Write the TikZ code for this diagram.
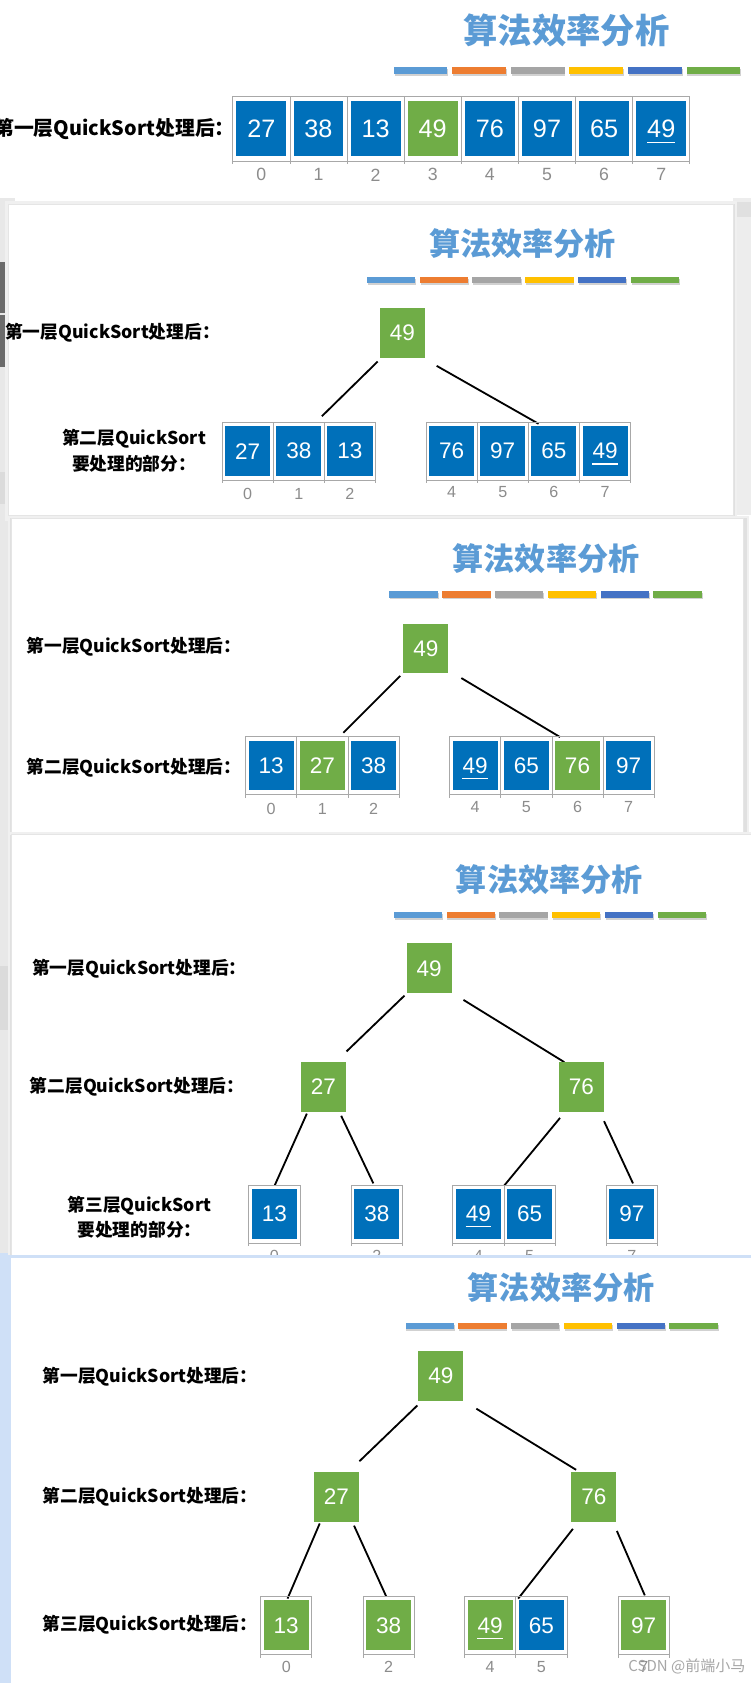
\documentclass[tikz,border=0pt]{standalone}
\usepackage{fontspec}
\setmainfont{Liberation Sans}
\newfontfamily\cjkf{Noto Sans CJK SC}
\newfontfamily\numf{Liberation Sans}
\definecolor{qblue}{HTML}{0070BA}
\definecolor{qgreen}{HTML}{70AD47}
\definecolor{titleblue}{HTML}{5B9BD5}
\definecolor{framegray}{HTML}{A8A8A8}
\definecolor{idxgray}{HTML}{8C8C8C}
\definecolor{barA}{HTML}{5B9BD5}
\definecolor{barB}{HTML}{ED7D31}
\definecolor{barC}{HTML}{A5A5A5}
\definecolor{barD}{HTML}{FFC000}
\definecolor{barE}{HTML}{4472C4}
\definecolor{barF}{HTML}{70AD47}
\definecolor{glow}{HTML}{CFE0F7}
\tikzset{
  frmB/.style={draw=framegray, line width=0.7pt, minimum width=47.7pt, minimum height=54pt, inner sep=0pt, outer sep=0pt},
  frmA/.style={frmB, minimum width=53.25pt, minimum height=60pt},
  boxB/.style={fill=qblue, text=white, minimum width=42pt, minimum height=46.5pt, inner sep=0pt, outer sep=0pt, font=\numf\fontsize{21}{21}\selectfont},
  gboxB/.style={boxB, fill=qgreen},
  boxA/.style={boxB, minimum width=46.5pt, minimum height=51.5pt, font=\numf\fontsize{23.5}{23.5}\selectfont},
  gboxA/.style={boxA, fill=qgreen},
  idxB/.style={text=idxgray, inner sep=0pt, font=\numf\fontsize{15}{15}\selectfont},
  idxA/.style={idxB, font=\numf\fontsize{16.5}{16.5}\selectfont},
  lvlB/.style={inner sep=0pt, anchor=east, font=\cjkf\bfseries\fontsize{16.5}{20}\selectfont},
  lvlA/.style={lvlB, font=\cjkf\bfseries\fontsize{18.5}{22}\selectfont},
  twoline/.style={inner sep=0pt, align=center, font=\cjkf\bfseries\fontsize{16.5}{24}\selectfont},
  ttlB/.style={inner sep=0pt, text=titleblue, font=\cjkf\bfseries\fontsize{29}{29}\selectfont},
  ttlA/.style={ttlB, font=\cjkf\bfseries\fontsize{32}{32}\selectfont},
  edge/.style={line width=1.7pt, draw=black},
  wmark/.style={inner sep=0pt, anchor=east, text=black!35, font=\cjkf\fontsize{14}{14}\selectfont},
}
% cell: name, x, y, text, box style, frame style
\newcommand\qc[6]{%
  \node[#6] (#1f) at (#2,#3) {};
  \node[#5] (#1) at (#2,#3) {#4};
  \draw[framegray, line width=0.7pt] (#1f.south west) -- ++(0,3) (#1f.south east) -- ++(0,3);}
% underline under a number: node, half width, offset
\newcommand\qul[3]{\draw[white, line width=1.2pt] ([shift={(-#2,#3)}]#1.center) -- ([shift={(#2,#3)}]#1.center);}
% colour bars: x0, y, width, gap, height
\newcommand\qbars[5]{%
  \foreach \c [count=\i from 0] in {barA,barB,barC,barD,barE,barF}{%
    \fill[black!18] ({#1+\i*(#3+#4)+0.8},{#2-#5/2+1.6}) rectangle ++(#3,#5);
    \fill[\c] ({#1+\i*(#3+#4)},{#2-#5/2}) rectangle ++(#3,#5);}}
\begin{document}
\begin{tikzpicture}[x=1pt,y=-1pt]
\useasboundingbox (0,0) rectangle (700,1568.7);
\fill[white] (0,0) rectangle (700,1568.7);
% ---------- background fragments at the edges ----------
\fill[black!9] (0,185) rectangle (14,1568.7);
\fill[black!58] (0,244) rectangle (7,292);
\fill[black!58] (0,294) rectangle (7,342);
\fill[black!14] (0,440) rectangle (14,470);
\fill[black!14] (0,900) rectangle (14,960);
\fill[glow] (0,1168) rectangle (14,1568.7);
\fill[black!7] (683,185) rectangle (700,480);
\fill[black!12] (683,188) rectangle (700,202);

% ---------- panel 1 ----------
\node[ttlA] (aT) at (528,28) {算法效率分析};
\qbars{367}{66}{50}{4.6}{6.5}
\node[lvlA] (aL1) at (219,120) {第一层QuickSort处理后：};
\qc{a0}{243.6}{120}{27}{boxA}{frmA}
\qc{a1}{296.85}{120}{38}{boxA}{frmA}
\qc{a2}{350.1}{120}{13}{boxA}{frmA}
\qc{a3}{403.35}{120}{49}{gboxA}{frmA}
\qc{a4}{456.6}{120}{76}{boxA}{frmA}
\qc{a5}{509.85}{120}{97}{boxA}{frmA}
\qc{a6}{563.1}{120}{65}{boxA}{frmA}
\qc{a7}{616.35}{120}{49}{boxA}{frmA}
\qul{a7}{13}{13}
\node[idxA] (ai0) at (243.6,163) {0};
\node[idxA] (ai1) at (296.85,163) {1};
\node[idxA] (ai2) at (350.1,163) {2};
\node[idxA] (ai3) at (403.35,163) {3};
\node[idxA] (ai4) at (456.6,163) {4};
\node[idxA] (ai5) at (509.85,163) {5};
\node[idxA] (ai6) at (563.1,163) {6};
\node[idxA] (ai7) at (616.35,163) {7};

% ---------- panel 2 ----------
\begin{scope}[shift={(375,310)}]
\fill[black!6] (-370,-123) rectangle (312,176);
\fill[black!12] (-368,-120) rectangle (310,173);
\fill[white, draw=black!10, line width=0.4pt] (-367,-120) rectangle (308,170);
\node[ttlB] (bT) at (112,-83) {算法效率分析};
\qbars{-33}{-49}{45}{4.2}{6}
\node[lvlB] (bL1) at (-170,0) {第一层QuickSort处理后：};
\node[gboxB] (bR) at (0,0) {49};
\coordinate (bla) at (-23,27);
\coordinate (blb) at (-75,78);
\coordinate (bra) at (32,31);
\coordinate (brb) at (127,85);
\draw[edge] (bla) -- (blb);
\draw[edge] (bra) -- (brb);
\node[twoline] (bL2) at (-250,110) {第二层QuickSort\\要处理的部分：};
\qc{b0}{-144.2}{110.5}{27}{boxB}{frmB}
\qc{b1}{-96.5}{110.5}{38}{boxB}{frmB}
\qc{b2}{-48.8}{110.5}{13}{boxB}{frmB}
\qc{b4}{45.9}{110.5}{76}{boxB}{frmB}
\qc{b5}{93.6}{110.5}{97}{boxB}{frmB}
\qc{b6}{141.3}{110.5}{65}{boxB}{frmB}
\qc{b7}{189.0}{110.5}{49}{boxB}{frmB}
\qul{b7}{12}{12}
\node[idxB] (bi0) at (-144.2,150) {0};
\node[idxB] (bi1) at (-96.5,150) {1};
\node[idxB] (bi2) at (-48.8,150) {2};
\node[idxB] (bi4) at (45.9,149) {4};
\node[idxB] (bi5) at (93.6,149) {5};
\node[idxB] (bi6) at (141.3,149) {6};
\node[idxB] (bi7) at (189.0,149) {7};
\end{scope}

% ---------- panel 3 ----------
\begin{scope}[shift={(397,604.5)}]
\fill[black!6] (-390,-124) rectangle (301,179);
\fill[black!12] (-388,-121.5) rectangle (299,176);
\fill[white, draw=black!10, line width=0.4pt] (-387,-121.5) rectangle (296,172.5);
\node[ttlB] (cT) at (112,-84) {算法效率分析};
\qbars{-34}{-50.5}{45}{4.2}{6}
\node[lvlB] (cL1) at (-172,-1.5) {第一层QuickSort处理后：};
\node[gboxB] (cR) at (0,0) {49};
\coordinate (cla) at (-24,25.5);
\coordinate (clb) at (-77,78.5);
\coordinate (cra) at (33,27.5);
\coordinate (crb) at (125,82.5);
\draw[edge] (cla) -- (clb);
\draw[edge] (cra) -- (crb);
\node[lvlB] (cL2) at (-172,111.5) {第二层QuickSort处理后：};
\qc{c0}{-144.2}{109}{13}{boxB}{frmB}
\qc{c1}{-96.5}{109}{27}{gboxB}{frmB}
\qc{c2}{-48.8}{109}{38}{boxB}{frmB}
\qc{c4}{45.9}{109}{49}{boxB}{frmB}
\qc{c5}{93.6}{109}{65}{boxB}{frmB}
\qc{c6}{141.3}{109}{76}{gboxB}{frmB}
\qc{c7}{189.0}{109}{97}{boxB}{frmB}
\qul{c4}{12}{12}
\node[idxB] (ci0) at (-144.2,149.5) {0};
\node[idxB] (ci1) at (-96.5,149.5) {1};
\node[idxB] (ci2) at (-48.8,149.5) {2};
\node[idxB] (ci4) at (45.9,147.5) {4};
\node[idxB] (ci5) at (93.6,147.5) {5};
\node[idxB] (ci6) at (141.3,147.5) {6};
\node[idxB] (ci7) at (189.0,147.5) {7};
\end{scope}

% ---------- panel 4 ----------
\begin{scope}[shift={(400,902.5)}]
\fill[black!6] (-393,-127) rectangle (320,280);
\fill[black!12] (-391,-124.5) rectangle (320,276);
\fill[white, draw=black!10, line width=0.4pt] (-390,-124.5) rectangle (320,272);
\node[ttlB] (dT) at (112,-82.5) {算法效率分析};
\qbars{-33}{-49.5}{45}{4.2}{6}
\node[lvlB] (dL1) at (-170,0.5) {第一层QuickSort处理后：};
\node[gboxB] (dR) at (0,0) {49};
\coordinate (dla) at (-23,25.5);
\coordinate (dlb) at (-77,77.5);
\coordinate (dra) at (32,29.5);
\coordinate (drb) at (126,87.5);
\draw[edge] (dla) -- (dlb);
\draw[edge] (dra) -- (drb);
\node[lvlB] (dL2) at (-172,110.5) {第二层QuickSort处理后：};
\node[gboxB] (dA) at (-98.5,110.5) {27};
\node[gboxB] (dB) at (142,110.5) {76};
\coordinate (dAla) at (-114,135.5);
\coordinate (dAlb) at (-144,202.5);
\coordinate (dAra) at (-82,137.5);
\coordinate (dArb) at (-52,200.5);
\coordinate (dBla) at (122,139.5);
\coordinate (dBlb) at (70,202.5);
\coordinate (dBra) at (163,142.5);
\coordinate (dBrb) at (190,200.5);
\draw[edge] (dAla) -- (dAlb);
\draw[edge] (dAra) -- (dArb);
\draw[edge] (dBla) -- (dBlb);
\draw[edge] (dBra) -- (dBrb);
\node[twoline] (dL3) at (-270,232) {第三层QuickSort\\要处理的部分：};
\qc{d0}{-144.2}{229}{13}{boxB}{frmB}
\qc{d2}{-48.8}{229}{38}{boxB}{frmB}
\qc{d4}{45.9}{229}{49}{boxB}{frmB}
\qc{d5}{93.6}{229}{65}{boxB}{frmB}
\qc{d7}{189.0}{229}{97}{boxB}{frmB}
\qul{d4}{12}{12}
\node[idxB] (di0) at (-144.2,268) {0};
\node[idxB] (di2) at (-48.8,268) {2};
\node[idxB] (di4) at (45.9,268) {4};
\node[idxB] (di5) at (93.6,268) {5};
\node[idxB] (di7) at (189.0,268) {7};
\end{scope}

% ---------- panel 5 ----------
\begin{scope}[shift={(411,1282.5)}]
\fill[glow] (-404,-113) rectangle (300,300);
\fill[white] (-401,-109.5) rectangle (300,300);
\node[ttlB] (eT) at (112,-82.5) {算法效率分析};
\qbars{-33}{-46.5}{45}{4.2}{6}
\node[lvlB] (eL1) at (-171,0.5) {第一层QuickSort处理后：};
\node[gboxB] (eR) at (0,0) {49};
\coordinate (ela) at (-22,27.5);
\coordinate (elb) at (-76,79.5);
\coordinate (era) at (33,30.5);
\coordinate (erb) at (126,87.5);
\draw[edge] (ela) -- (elb);
\draw[edge] (era) -- (erb);
\node[lvlB] (eL2) at (-171,112.5) {第二层QuickSort处理后：};
\node[gboxB] (eA) at (-97.5,112.5) {27};
\node[gboxB] (eB) at (142.5,112.5) {76};
\coordinate (eAla) at (-113,137.5);
\coordinate (eAlb) at (-143,207.5);
\coordinate (eAra) at (-81,139.5);
\coordinate (eArb) at (-51,205.5);
\coordinate (eBla) at (123,142.5);
\coordinate (eBlb) at (72,207.5);
\coordinate (eBra) at (164,144.5);
\coordinate (eBrb) at (190,204.5);
\draw[edge] (eAla) -- (eAlb);
\draw[edge] (eAra) -- (eArb);
\draw[edge] (eBla) -- (eBlb);
\draw[edge] (eBra) -- (eBrb);
\node[lvlB] (eL3) at (-171,231.5) {第三层QuickSort处理后：};
\qc{e0}{-144.2}{232.5}{13}{gboxB}{frmB}
\qc{e2}{-48.8}{232.5}{38}{gboxB}{frmB}
\qc{e4}{45.9}{232.5}{49}{gboxB}{frmB}
\qc{e5}{93.6}{232.5}{65}{boxB}{frmB}
\qc{e7}{189.0}{232.5}{97}{gboxB}{frmB}
\qul{e4}{12}{12}
\node[idxB] (ei0) at (-144.2,271) {0};
\node[idxB] (ei2) at (-48.8,271) {2};
\node[idxB] (ei4) at (45.9,271) {4};
\node[idxB] (ei5) at (93.6,271) {5};
\node[idxB] (ei7) at (189.0,271) {7};
\end{scope}
\node[wmark] (wm) at (695,1553) {CSDN @前端小马};
\end{tikzpicture}
\end{document}
